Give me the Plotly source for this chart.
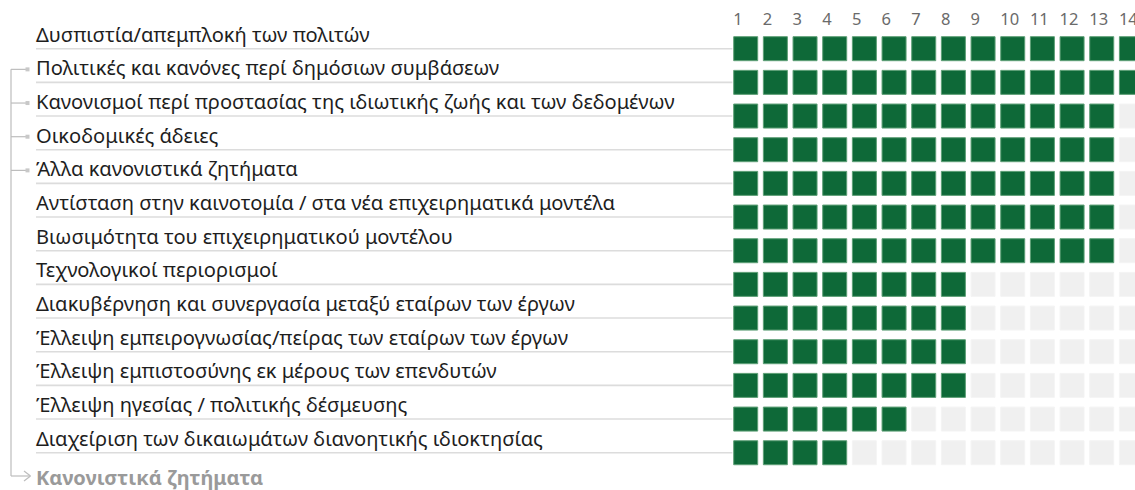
import plotly.graph_objects as go

# ---------------- data ----------------
categories = [
    "Δυσπιστία/απεμπλοκή των πολιτών",
    "Πολιτικές και κανόνες περί δημόσιων συμβάσεων",
    "Κανονισμοί περί προστασίας της ιδιωτικής ζωής και των δεδομένων",
    "Οικοδομικές άδειες",
    "Άλλα κανονιστικά ζητήματα",
    "Αντίσταση στην καινοτομία / στα νέα επιχειρηματικά μοντέλα",
    "Βιωσιμότητα του επιχειρηματικού μοντέλου",
    "Τεχνολογικοί περιορισμοί",
    "Διακυβέρνηση και συνεργασία μεταξύ εταίρων των έργων",
    "Έλλειψη εμπειρογνωσίας/πείρας των εταίρων των έργων",
    "Έλλειψη εμπιστοσύνης εκ μέρους των επενδυτών",
    "Έλλειψη ηγεσίας / πολιτικής δέσμευσης",
    "Διαχείριση των δικαιωμάτων διανοητικής ιδιοκτησίας",
]
values = [14, 14, 13, 13, 13, 13, 13, 8, 8, 8, 8, 6, 4]
column_labels = [str(i) for i in range(1, 15)]
grouped_rows = [2, 3, 4, 5]  # rows belonging to the bracket group
group_label = "Κανονιστικά ζητήματα"

# ---------------- layout constants ----------------
W, H = 1135, 490
COL_PITCH, X_FIRST = 29.67, 745.7   # px
ROW_PITCH, Y_FIRST = 33.67, 48.7    # px
SQ = 24
LABEL_X = 36
GREEN = "#0e6938"
GREEN_EDGE = "#5d9f76"
GREY = "#f0f0f0"
GREY_EDGE = "#f4f4f4"
FONT = "Noto Sans"

n_cols = len(column_labels)
n_rows = len(categories)

x0 = 1 - X_FIRST / COL_PITCH
x1 = x0 + W / COL_PITCH
y0 = 1 - Y_FIRST / ROW_PITCH
y1 = y0 + H / ROW_PITCH


def px_to_x(px):
    return x0 + px / COL_PITCH


def px_to_y(py):
    return y0 + py / ROW_PITCH


fx, fy, gx, gy = [], [], [], []
for r, v in enumerate(values, start=1):
    for c in range(1, n_cols + 1):
        if c <= v:
            fx.append(c); fy.append(r)
        else:
            gx.append(c); gy.append(r)

fig = go.Figure()

# row underline connectors
for r in range(1, n_rows + 1):
    fig.add_trace(go.Scatter(
        x=[px_to_x(LABEL_X), 0.55], y=[r, r], mode="lines",
        line=dict(color="#dcdcdc", width=1.6), hoverinfo="skip", showlegend=False))

fig.add_trace(go.Scatter(
    x=gx, y=gy, mode="markers",
    marker=dict(symbol="square", size=SQ, color=GREY, line=dict(color=GREY_EDGE, width=1)),
    hoverinfo="skip", showlegend=False))
fig.add_trace(go.Scatter(
    x=fx, y=fy, mode="markers",
    marker=dict(symbol="square", size=SQ, color=GREEN, line=dict(color=GREEN_EDGE, width=1)),
    hoverinfo="skip", showlegend=False))

# column numbers, left-aligned with each column's square
half = (SQ / 2 + 0.5) / COL_PITCH
fig.add_trace(go.Scatter(
    x=[c - half for c in range(1, n_cols + 1)], y=[px_to_y(21)] * n_cols, mode="text",
    text=column_labels, textposition="middle right",
    textfont=dict(family=FONT, size=16.5, color="#6a6a6a"),
    hoverinfo="skip", showlegend=False))

annotations = []
for r, name in enumerate(categories, start=1):
    annotations.append(dict(
        xref="paper", x=(LABEL_X - 2) / W, xanchor="left",
        yref="y", y=r, yanchor="bottom", yshift=-1,
        text=name, showarrow=False,
        font=dict(family=FONT, size=20.1, color="#1e1e1e")))

annotations.append(dict(
    xref="paper", x=(LABEL_X - 1) / W, xanchor="left",
    yref="paper", y=1 - 477 / H, yanchor="middle", borderpad=0,
    text="<b>" + group_label + "</b>", showarrow=False,
    font=dict(family=FONT, size=20, color="#9a9a9a")))

shapes = []
BR = "#bdbdbd"
TICK_OFF = 13 / ROW_PITCH
top_y = grouped_rows[0] - TICK_OFF
bottom_y = px_to_y(476)
shapes.append(dict(type="line", xref="paper", yref="y",
                   x0=11 / W, x1=11 / W, y0=top_y, y1=bottom_y,
                   line=dict(color=BR, width=1.2)))
for r in grouped_rows:
    ty = r - TICK_OFF
    shapes.append(dict(type="line", xref="paper", yref="y",
                       x0=11 / W, x1=26 / W, y0=ty, y1=ty,
                       line=dict(color=BR, width=1.2)))
    shapes.append(dict(type="rect", xref="paper", yref="y",
                       x0=25.5 / W, x1=29.5 / W, y0=ty - 2 / ROW_PITCH, y1=ty + 2 / ROW_PITCH,
                       line=dict(width=0), fillcolor="#c8c8c8"))
# arrow at bottom
shapes.append(dict(type="line", xref="paper", yref="y",
                   x0=11 / W, x1=30 / W, y0=bottom_y, y1=bottom_y,
                   line=dict(color=BR, width=1.2)))
shapes.append(dict(type="line", xref="paper", yref="y",
                   x0=24 / W, x1=30.5 / W, y0=bottom_y - 5 / ROW_PITCH, y1=bottom_y,
                   line=dict(color=BR, width=1.2)))
shapes.append(dict(type="line", xref="paper", yref="y",
                   x0=24 / W, x1=30.5 / W, y0=bottom_y + 5 / ROW_PITCH, y1=bottom_y,
                   line=dict(color=BR, width=1.2)))

fig.update_layout(
    width=W, height=H,
    margin=dict(l=0, r=0, t=0, b=0),
    paper_bgcolor="white", plot_bgcolor="white",
    xaxis=dict(range=[x0, x1], visible=False, fixedrange=True),
    yaxis=dict(range=[y1, y0], visible=False, fixedrange=True),
    annotations=annotations, shapes=shapes,
    showlegend=False,
)

fig.write_html(
    "out.html",
    config={"displayModeBar": False},
    post_script="document.body.style.margin='0px';document.body.style.overflow='hidden';",
)
